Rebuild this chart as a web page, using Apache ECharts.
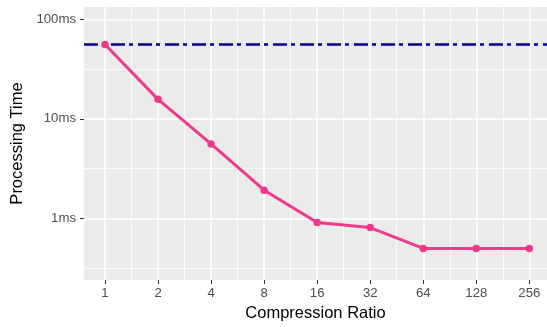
<!DOCTYPE html>
<html>
<head>
<meta charset="utf-8">
<script src="https://cdn.jsdelivr.net/npm/echarts@6/dist/echarts.min.js"></script>
<style>
html,body{margin:0;padding:0;background:#fff;}
#chart{width:547px;height:327px;}
</style>
</head>
<body>
<div id="chart"></div>
<script>
// Data
var ratios = [1, 2, 4, 8, 16, 32, 64, 128, 256];
var timesMs = [55.8, 15.7, 5.6, 1.92, 0.91, 0.81, 0.5, 0.5, 0.5];
var baselineMs = 56;
var xTickLabels = ['1', '2', '4', '8', '16', '32', '64', '128', '256'];
var yTickValuesMs = [1, 10, 100];
var yTickLabels = ['1ms', '10ms', '100ms'];

var FONT = '"Liberation Sans", Arial, Helvetica, sans-serif';
var xMin = -0.396, xMax = 8.333;       // log2 units
var yMin = -0.618, yMax = 2.123;       // log10 units

var xMajor = ratios.map(function (r) { return Math.log2(r); });
var xMinor = [];
for (var i = 0; i < xMajor.length - 1; i++) xMinor.push((xMajor[i] + xMajor[i + 1]) / 2);
var yMajor = yTickValuesMs.map(function (v) { return Math.log10(v); });
var yMinor = [-0.5, 0.5, 1.5];

var gridLines = [];
xMinor.forEach(function (v) { gridLines.push({ xAxis: v, lineStyle: { color: '#ffffff', width: 0.8, type: 'solid' } }); });
yMinor.forEach(function (v) { gridLines.push({ yAxis: v, lineStyle: { color: '#ffffff', width: 0.8, type: 'solid' } }); });
xMajor.forEach(function (v) { gridLines.push({ xAxis: v, lineStyle: { color: '#ffffff', width: 1.6, type: 'solid' } }); });
yMajor.forEach(function (v) { gridLines.push({ yAxis: v, lineStyle: { color: '#ffffff', width: 1.6, type: 'solid' } }); });

var lineData = ratios.map(function (r, i) { return [Math.log2(r), Math.log10(timesMs[i])]; });

var chart = echarts.init(document.getElementById('chart'), null, { renderer: 'canvas' });
chart.setOption({
  animation: false,
  backgroundColor: '#ffffff',
  grid: { left: 84, top: 7, right: 0, bottom: 45, show: true, backgroundColor: '#EBEBEB', borderWidth: 0 },
  xAxis: {
    type: 'value', min: xMin, max: xMax,
    name: 'Compression Ratio', nameLocation: 'middle', nameGap: 25,
    nameTextStyle: { fontFamily: FONT, fontSize: 16.5, color: '#000000' },
    axisLine: { show: false, onZero: false },
    splitLine: { show: false },
    axisTick: { show: true, inside: false, length: 4, lineStyle: { color: '#333333', width: 1 }, customValues: xMajor },
    axisLabel: {
      customValues: xMajor, margin: 7,
      fontFamily: FONT, fontSize: 13.2, color: '#4D4D4D',
      formatter: function (v) {
        var idx = xMajor.indexOf(v);
        return idx >= 0 ? xTickLabels[idx] : String(Math.round(Math.pow(2, v)));
      }
    }
  },
  yAxis: {
    type: 'value', min: yMin, max: yMax,
    name: 'Processing Time', nameLocation: 'middle', nameGap: 58,
    nameTextStyle: { fontFamily: FONT, fontSize: 16.5, color: '#000000' },
    axisLine: { show: false, onZero: false },
    splitLine: { show: false },
    axisTick: { show: true, inside: false, length: 4, lineStyle: { color: '#333333', width: 1 }, customValues: yMajor },
    axisLabel: {
      customValues: yMajor, margin: 8,
      fontFamily: FONT, fontSize: 13.2, color: '#4D4D4D',
      formatter: function (v) {
        var idx = yMajor.indexOf(v);
        return idx >= 0 ? yTickLabels[idx] : Math.round(Math.pow(10, v)) + 'ms';
      }
    }
  },
  series: [
    {
      type: 'line', data: [], zlevel: 0, z: 1, silent: true,
      markLine: { silent: true, symbol: ['none', 'none'], label: { show: false }, animation: false, data: gridLines }
    },
    {
      type: 'line', data: [], zlevel: 1, z: 2, silent: true,
      markLine: {
        silent: true, symbol: ['none', 'none'], label: { show: false }, animation: false,
        data: [{ yAxis: Math.log10(baselineMs), lineStyle: { color: '#00008B', width: 2.5, type: [14, 4, 4, 5], cap: 'butt' } }]
      }
    },
    {
      type: 'line', data: lineData, zlevel: 2, z: 3,
      lineStyle: { color: '#EE3A8C', width: 3 },
      itemStyle: { color: '#EE3A8C' },
      symbol: 'circle', symbolSize: 7.5, showSymbol: true
    }
  ]
});
</script>
</body>
</html>
